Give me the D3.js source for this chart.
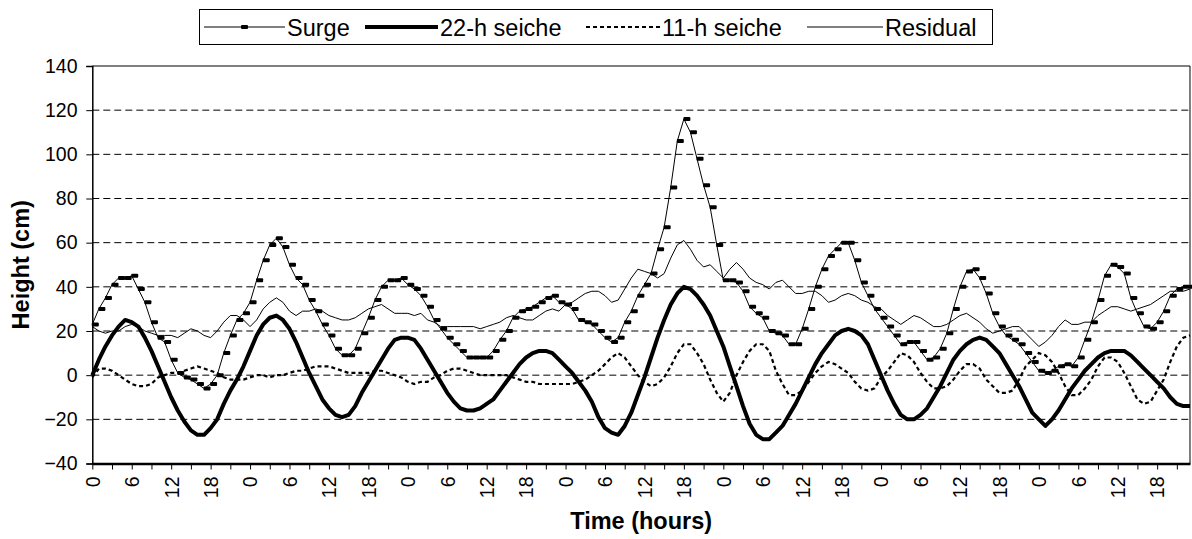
<!DOCTYPE html>
<html>
<head>
<meta charset="utf-8">
<script src="https://cdnjs.cloudflare.com/ajax/libs/d3/7.8.5/d3.min.js"></script>
<style>
  body { margin: 0; background: #fff; }
  svg { display: block; font-family: Arial, "Liberation Sans", sans-serif; }
</style>
</head>
<body>
<div id="chart"></div>
<script>
// hourly values, hour 0 .. 167
const surge = [
  23, 30, 35, 41, 44, 44, 45, 39, 33, 24, 17, 15, 7, 1, -1, -2, -4, -6, -4, 0, 10, 18, 25, 28,
  33, 43, 52, 59, 62, 58, 50, 44, 41, 34, 29, 23, 18, 12, 9, 9, 12, 19, 26, 34, 40, 43, 43, 44,
  41, 39, 36, 31, 25, 21, 17, 14, 11, 8, 8, 8, 8, 11, 16, 20, 26, 29, 30, 31, 33, 35, 36, 33,
  32, 30, 25, 24, 23, 20, 17, 15, 17, 24, 29, 36, 41, 46, 57, 67, 85, 106, 116, 110, 98, 86, 76, 59,
  43, 43, 42, 38, 31, 28, 26, 20, 19, 18, 14, 14, 21, 30, 40, 48, 54, 57, 60, 60, 52, 42, 36, 30,
  26, 22, 18, 14, 15, 15, 11, 7, 8, 12, 19, 30, 40, 47, 48, 44, 37, 28, 22, 18, 16, 14, 10, 6,
  2, 1, 2, 4, 5, 4, 8, 16, 24, 34, 45, 50, 49, 46, 35, 28, 22, 21, 24, 29, 36, 39, 40, 40
];
const seiche22 = [
  0, 7, 13, 18, 22, 25, 24, 22, 17, 11, 4, -3, -10, -16, -21, -25, -27, -27, -24, -20, -13, -7, -2, 4,
  11, 18, 23, 26, 27, 25, 21, 15, 8, 1, -5, -11, -15, -18, -19, -18, -14, -8, -3, 2, 7, 12, 16, 17,
  17, 16, 12, 7, 2, -3, -8, -12, -15, -16, -16, -15, -13, -11, -7, -3, 1, 5, 8, 10, 11, 11, 10, 7,
  4, 1, -3, -7, -12, -19, -24, -26, -27, -23, -17, -9, -1, 8, 17, 25, 32, 37, 40, 39, 36, 32, 27, 20,
  13, 4, -5, -14, -22, -27, -29, -29, -26, -23, -18, -13, -7, -1, 5, 10, 14, 18, 20, 21, 20, 18, 14, 7,
  0, -7, -13, -18, -20, -20, -18, -15, -10, -5, 1, 7, 11, 14, 16, 17, 16, 13, 10, 5, 0, -5, -11, -17,
  -20, -23, -20, -16, -11, -6, -2, 2, 5, 8, 10, 11, 11, 11, 9, 6, 3, 0, -3, -6, -10, -13, -14, -14
];
const seiche11 = [
  -1, 3, 3, 2, 0, -2, -4, -5, -5, -4, -1, 0, 1, 1, 2, 3, 4, 3, 2, 1, -1, -2, -2, -2,
  -1, 0, 0, -1, 0, 0, 1, 2, 2, 3, 4, 4, 4, 3, 2, 1, 1, 1, 1, 2, 2, 1, 0, -1,
  -3, -4, -3, -3, -1, 0, 2, 3, 3, 2, 1, 0, 0, 0, 0, 0, -1, -2, -3, -3, -4, -4, -4, -4,
  -4, -4, -3, -2, 0, 2, 5, 8, 10, 8, 4, 0, -3, -5, -4, -1, 4, 10, 14, 14, 10, 5, -2, -8,
  -12, -8, 0, 6, 11, 14, 14, 11, 2, -4, -9, -9, -7, -3, 1, 4, 6, 5, 3, 1, -3, -6, -7, -6,
  -1, 2, 6, 10, 9, 6, 1, -3, -6, -6, -5, -2, 2, 5, 5, 3, -2, -5, -8, -8, -7, -2, 4, 7,
  10, 9, 6, 1, -5, -9, -9, -6, -2, 4, 8, 8, 6, 1, -5, -11, -13, -12, -7, -2, 6, 13, 17, 18
];
const residual = [
  22, 20, 19, 20, 20, 22, 23, 22, 20, 19, 18, 18, 18, 17, 19, 21, 20, 18, 17, 20, 24, 27, 27, 25,
  22, 25, 30, 33, 35, 33, 29, 27, 29, 29, 30, 29, 27, 26, 25, 25, 26, 28, 30, 31, 32, 30, 28, 28,
  28, 27, 28, 25, 24, 22, 22, 22, 22, 22, 22, 21, 22, 23, 24, 26, 27, 26, 25, 25, 27, 29, 30, 29,
  32, 33, 35, 37, 38, 38, 36, 33, 34, 39, 44, 48, 47, 46, 44, 46, 53, 59, 61, 57, 52, 49, 50, 47,
  44, 48, 51, 48, 44, 42, 41, 39, 42, 43, 40, 37, 37, 38, 38, 36, 33, 34, 36, 37, 36, 34, 33, 31,
  30, 27, 25, 23, 25, 27, 26, 24, 22, 22, 23, 25, 27, 28, 26, 24, 21, 19, 20, 21, 22, 22, 19, 16,
  13, 15, 18, 22, 25, 23, 23, 24, 24, 27, 29, 31, 31, 30, 29, 30, 31, 32, 34, 36, 38, 38, 38, 39
];
// labels under every 6th hour
const tickLabels = [
  "0", "6", "12", "18", "0", "6", "12", "18", "0", "6", "12", "18", "0", "6",
  "12", "18", "0", "6", "12", "18", "0", "6", "12", "18", "0", "6", "12", "18"
];
const yTicks = [-40, -20, 0, 20, 40, 60, 80, 100, 120, 140];
const seriesNames = ["Surge", "22-h seiche", "11-h seiche", "Residual"];

const W = 1192, H = 539;
const margin = { top: 66, right: 2, bottom: 75.5, left: 92.3 };
const innerW = W - margin.left - margin.right;
const innerH = H - margin.top - margin.bottom;
const tickFont = 19.5, titleFont = 23.5;

const svg = d3.select("#chart").append("svg")
  .attr("width", W)
  .attr("height", H);

const x = d3.scaleLinear().domain([0, surge.length - 1]).range([0, innerW]);
const y = d3.scaleLinear().domain([-40, 140]).range([innerH, 0]);

const g = svg.append("g")
  .attr("transform", `translate(${margin.left},${margin.top})`);

// dashed grid lines
g.append("g")
  .selectAll("line")
  .data(yTicks.filter(d => d > -40 && d < 140))
  .enter()
  .append("line")
  .attr("x1", 0)
  .attr("x2", innerW)
  .attr("y1", d => y(d))
  .attr("y2", d => y(d))
  .attr("stroke", "#000")
  .attr("stroke-width", 1)
  .attr("stroke-dasharray", "7,4");

// frame top and right
g.append("path")
  .attr("d", `M0,${y(140)}H${innerW}V${innerH}`)
  .attr("fill", "none")
  .attr("stroke", "#000")
  .attr("stroke-width", 1);

// y axis
const yAxis = d3.axisLeft(y).tickValues(yTicks).tickSize(6).tickPadding(8.8);
const yG = g.append("g").call(yAxis);
yG.select(".domain").attr("stroke-width", 1.5);
yG.selectAll("text").attr("font-size", tickFont).attr("fill", "#000");

// x axis: tick every 3 h, label every 6 h
const xTickHours = d3.range(0, surge.length, 3);
const xAxis = d3.axisBottom(x)
  .tickValues(xTickHours)
  .tickSize(6)
  .tickSizeOuter(0)
  .tickFormat(d => (d % 6 === 0 ? tickLabels[d / 6] : ""));
const xG = g.append("g")
  .attr("transform", `translate(0,${innerH})`)
  .call(xAxis);
xG.select(".domain").attr("stroke-width", 2.5);
xG.selectAll("text")
  .attr("font-size", tickFont)
  .attr("fill", "#000")
  .attr("transform", "rotate(-90)")
  .attr("text-anchor", "end")
  .attr("x", -13)
  .attr("y", 0)
  .attr("dy", "0.35em");

// series
const line = d3.line().x((d, i) => x(i)).y(d => y(d));

g.append("path")
  .datum(residual)
  .attr("d", line)
  .attr("fill", "none")
  .attr("stroke", "#000")
  .attr("stroke-width", 1);

g.append("path")
  .datum(seiche11)
  .attr("d", line)
  .attr("fill", "none")
  .attr("stroke", "#000")
  .attr("stroke-width", 2.2)
  .attr("stroke-dasharray", "4,3");

g.append("path")
  .datum(seiche22)
  .attr("d", line)
  .attr("fill", "none")
  .attr("stroke", "#000")
  .attr("stroke-width", 4)
  .attr("stroke-linejoin", "round");

g.append("path")
  .datum(surge)
  .attr("d", line)
  .attr("fill", "none")
  .attr("stroke", "#000")
  .attr("stroke-width", 1);

// dash markers on surge
g.append("g")
  .selectAll("rect")
  .data(surge)
  .enter()
  .append("rect")
  .attr("x", (d, i) => x(i) - 0.5)
  .attr("y", d => y(d) - 2)
  .attr("width", 7)
  .attr("height", 4)
  .attr("rx", 1)
  .attr("fill", "#000");

// axis titles
svg.append("text")
  .text("Time (hours)")
  .attr("x", margin.left + innerW / 2)
  .attr("y", 528.5)
  .attr("text-anchor", "middle")
  .attr("font-size", titleFont)
  .attr("font-weight", "bold");

svg.append("text")
  .text("Height (cm)")
  .attr("transform", `translate(29,${margin.top + innerH / 2}) rotate(-90)`)
  .attr("text-anchor", "middle")
  .attr("font-size", titleFont)
  .attr("font-weight", "bold");

// legend
const legend = svg.append("g");
legend.append("rect")
  .attr("x", 199.5).attr("y", 9.5)
  .attr("width", 793).attr("height", 35)
  .attr("fill", "#fff")
  .attr("stroke", "#000")
  .attr("stroke-width", 1);

const legendItems = [
  { x0: 204, x1: 285, w: 1, dash: null, marker: true },
  { x0: 365, x1: 438, w: 4, dash: null, marker: false },
  { x0: 586, x1: 660, w: 2.2, dash: "4,3", marker: false },
  { x0: 807, x1: 883, w: 1, dash: null, marker: false }
];
legendItems.forEach((item, i) => {
  legend.append("line")
    .attr("x1", item.x0).attr("x2", item.x1)
    .attr("y1", 27).attr("y2", 27)
    .attr("stroke", "#000")
    .attr("stroke-width", item.w)
    .attr("stroke-dasharray", item.dash);
  if (item.marker) {
    legend.append("rect")
      .attr("x", (item.x0 + item.x1) / 2 - 3.5).attr("y", 25)
      .attr("width", 7).attr("height", 4).attr("rx", 1)
      .attr("fill", "#000");
  }
  legend.append("text")
    .text(seriesNames[i])
    .attr("x", item.x1 + 2)
    .attr("y", 35.5)
    .attr("font-size", titleFont)
    .attr("fill", "#000");
});
</script>
</body>
</html>
